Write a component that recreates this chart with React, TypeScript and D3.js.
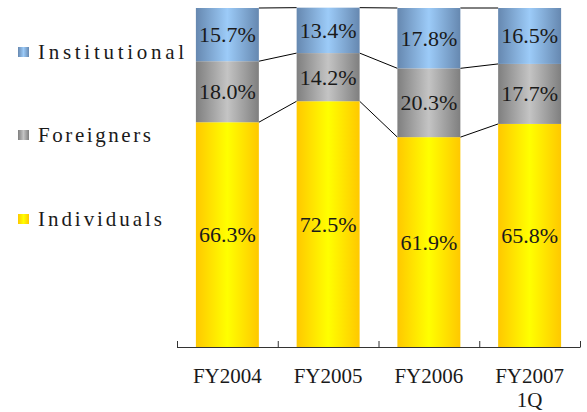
import React from "react";
import * as d3 from "d3";

const categories = ["FY2004", "FY2005", "FY2006", "FY2007\n1Q"];
const seriesNames = ["Individuals", "Foreigners", "Institutional"];
const individuals = [66.3, 72.5, 61.9, 65.8];
const foreigners = [18.0, 14.2, 20.3, 17.7];
const institutional = [15.7, 13.4, 17.8, 16.5];

const W = 587;
const H = 412;
const FONT = "Liberation Serif, DejaVu Serif, serif";

const grads: Record<string, [string, string]> = {
  Individuals: ["#ffc800", "#ffff00"],
  Foreigners: ["#7f7f7f", "#c4c4c4"],
  Institutional: ["#6688b0", "#9ccbf8"],
};

export default function App() {
  const rows = categories.map((c, i) => ({
    cat: c,
    Individuals: individuals[i],
    Foreigners: foreigners[i],
    Institutional: institutional[i],
  }));
  const stack = d3.stack<any>().keys(seriesNames)(rows);

  const x = d3
    .scaleBand()
    .domain(categories)
    .range([177, 580])
    .paddingInner(0.375)
    .paddingOuter(0.1875);
  const y = d3.scaleLinear().domain([0, 100]).range([347, 8]);
  const step = x.step();
  const ticks = d3.range(categories.length + 1).map((i) => 177 + i * step);

  const connectors: { x1: number; y1: number; x2: number; y2: number }[] = [];
  stack.forEach((s) => {
    for (let i = 0; i < categories.length - 1; i++) {
      connectors.push({
        x1: (x(categories[i]) as number) + x.bandwidth(),
        y1: y(s[i][1]),
        x2: x(categories[i + 1]) as number,
        y2: y(s[i + 1][1]),
      });
    }
  });

  const legendItems = [
    { name: "Institutional", y: 59, len: 146 },
    { name: "Foreigners", y: 142, len: 113 },
    { name: "Individuals", y: 226, len: 124 },
  ];

  const txt = { fontFamily: FONT } as React.CSSProperties;

  return (
    <svg
      width={W}
      height={H}
      style={{ position: "absolute", left: 0, top: 0, background: "#fff" }}
    >
      <defs>
        {seriesNames.map((n) => (
          <linearGradient key={n} id={"g-" + n} x1="0" x2="1" y1="0" y2="0">
            <stop offset="0" stopColor={grads[n][0]} />
            <stop offset="0.5" stopColor={grads[n][1]} />
            <stop offset="1" stopColor={grads[n][0]} />
          </linearGradient>
        ))}
      </defs>

      {connectors.map((c, i) => (
        <line
          key={i}
          x1={c.x1}
          y1={c.y1}
          x2={c.x2}
          y2={c.y2}
          stroke="#000"
          strokeWidth={1}
        />
      ))}

      {stack.map((s) => (
        <g key={s.key}>
          {s.map((d, i) => {
            const bx = x(categories[i]) as number;
            const y0 = y(d[0]);
            const y1 = y(d[1]);
            return (
              <g key={i}>
                <rect
                  x={bx}
                  y={y1}
                  width={x.bandwidth()}
                  height={y0 - y1}
                  fill={`url(#g-${s.key})`}
                />
                <text
                  x={bx + x.bandwidth() / 2}
                  y={(y0 + y1) / 2 + 7.5}
                  textAnchor="middle"
                  style={txt}
                  fontSize={22}
                  fill="#1a1a1a"
                >
                  {(d[1] - d[0]).toFixed(1)}%
                </text>
              </g>
            );
          })}
        </g>
      ))}

      <line x1={177} x2={580} y1={347.5} y2={347.5} stroke="#333" strokeWidth={1} />
      {ticks.map((t, i) => (
        <line
          key={i}
          x1={t + 0.5}
          x2={t + 0.5}
          y1={341}
          y2={347.5}
          stroke="#333"
          strokeWidth={1}
        />
      ))}
      {categories.map((c) => {
        const lines = c.split("\n");
        const cx = (x(c) as number) + x.bandwidth() / 2;
        return (
          <text key={c} textAnchor="middle" style={txt} fontSize={21} fill="#1a1a1a">
            {lines.map((l, j) => (
              <tspan key={j} x={cx} y={383 + j * 24}>
                {l}
              </tspan>
            ))}
          </text>
        );
      })}

      {legendItems.map((it) => (
        <g key={it.name}>
          <rect
            x={18}
            y={it.y - 12}
            width={11}
            height={10}
            fill={`url(#g-${it.name})`}
          />
          <text
            x={38}
            y={it.y}
            style={txt}
            fontSize={21}
            textLength={it.len}
            lengthAdjust="spacing"
            fill="#1a1a1a"
          >
            {it.name}
          </text>
        </g>
      ))}
    </svg>
  );
}
